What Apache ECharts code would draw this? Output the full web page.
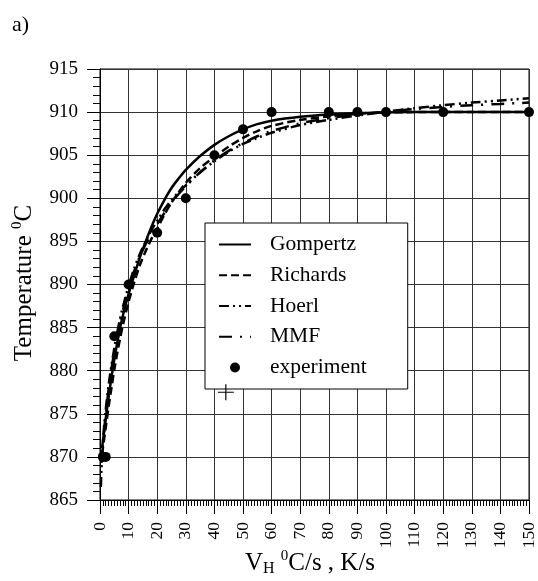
<!DOCTYPE html>
<html>
<head>
<meta charset="utf-8">
<script src="https://cdn.jsdelivr.net/npm/echarts@6/dist/echarts.min.js"></script>
<style>
html,body{margin:0;padding:0;background:#fff;}
#chart{width:538px;height:581px;}
</style>
</head>
<body>
<div id="chart"></div>
<script>
// ---- data ----
var xModel   = [0.3, 0.5, 0.7, 1, 1.5, 2, 3, 4, 5, 6, 7, 8, 10, 12, 14, 16, 18, 20, 22.5, 25, 27.5, 30, 35, 40, 45, 50, 55, 60, 70, 80, 90, 100, 110, 120, 130, 140, 150];
var gompertz = [null, null, 871.0, 871.8, 873.1, 874.4, 876.9, 879.2, 881.3, 883.2, 884.9, 886.4, 888.9, 891.1, 893.2, 895.0, 896.7, 898.2, 899.8, 901.2, 902.3, 903.3, 904.9, 906.2, 907.2, 908.0, 908.6, 909.0, 909.45, 909.72, 909.88, 909.96, 910.0, 910.0, 910.0, 910.0, 910.0];
var richards = [null, null, 870.3, 871.0, 872.2, 873.4, 875.8, 878.0, 880.1, 882.0, 883.7, 885.3, 888.0, 890.3, 892.3, 893.9, 895.3, 896.5, 898.1, 899.5, 900.7, 901.8, 903.5, 904.8, 906.0, 907.0, 907.8, 908.4, 909.1, 909.5, 909.8, 909.95, 910.0, 910.0, 910.0, 910.0, 910.0];
var hoerl    = [866.5, 868.5, 869.9, 871.6, 873.8, 875.5, 878.3, 880.6, 882.6, 884.4, 886.0, 887.4, 889.8, 891.9, 893.6, 895.0, 896.3, 897.4, 898.7, 899.8, 900.7, 901.5, 903.0, 904.3, 905.4, 906.3, 907.0, 907.6, 908.5, 909.1, 909.6, 910.05, 910.45, 910.8, 911.1, 911.35, 911.6];
var mmf      = [null, 869.3, 870.2, 871.4, 873.2, 874.9, 877.8, 880.2, 882.2, 884.0, 885.6, 887.0, 889.5, 891.6, 893.3, 894.7, 895.9, 897.0, 898.3, 899.5, 900.5, 901.4, 903.0, 904.4, 905.5, 906.4, 907.2, 907.8, 908.7, 909.3, 909.7, 910.05, 910.35, 910.6, 910.8, 910.95, 911.1];
var expX     = [1, 2, 5, 10, 20, 30, 40, 50, 60, 80, 90, 100, 120, 150];
var expY     = [870, 870, 884, 890, 896, 900, 905, 908, 910, 910, 910, 910, 910, 910];
var cursorMark = [44, 877.5];
var seriesNames = ['Gompertz', 'Richards', 'Hoerl', 'MMF', 'experiment'];

function pairs(xs, ys) {
  var out = [];
  for (var i = 0; i < xs.length; i++) { if (ys[i] !== null) out.push([xs[i], ys[i]]); }
  return out;
}

var FONT = 'Liberation Serif';
var chart = echarts.init(document.getElementById('chart'), null, {renderer: 'canvas'});

function lineSeries(name, ys, dash) {
  return {
    name: name, type: 'line', data: pairs(xModel, ys), symbol: 'none', smooth: 0.3,
    lineStyle: {color: '#000', width: 2.5, type: dash}, itemStyle: {color: '#000'}, z: 3
  };
}
var hiddenSym = {color: 'rgba(0,0,0,0)', borderWidth: 0, opacity: 0};

chart.setOption({
  animation: false,
  backgroundColor: '#fff',
  grid: {left: 100, right: 8, top: 69, bottom: 81, show: true, borderColor: '#000', borderWidth: 1, backgroundColor: 'transparent'},
  xAxis: {
    type: 'value', min: 0, max: 150, interval: 10,
    axisLine: {show: true, onZero: false, lineStyle: {color: '#000', width: 1}},
    axisTick: {show: true, inside: false, length: 14, lineStyle: {color: '#000', width: 1}},
    minorTick: {show: true, splitNumber: 10, length: 6, lineStyle: {color: '#000', width: 1}},
    axisLabel: {rotate: 90, margin: 22, fontFamily: FONT, fontSize: 17.5, color: '#000'},
    splitLine: {show: true, lineStyle: {color: '#333', width: 1}}
  },
  yAxis: {
    type: 'value', min: 865, max: 915, interval: 5,
    axisLine: {show: true, onZero: false, lineStyle: {color: '#000', width: 1}},
    axisTick: {show: true, inside: false, length: 13, lineStyle: {color: '#000', width: 1}},
    minorTick: {show: true, splitNumber: 5, length: 7, lineStyle: {color: '#000', width: 1}},
    axisLabel: {margin: 22, fontFamily: FONT, fontSize: 19, color: '#000'},
    splitLine: {show: true, lineStyle: {color: '#333', width: 1}}
  },
  legend: {
    orient: 'vertical', left: 205, top: 223,
    padding: [10.5, 41, 10.5, 13],
    itemWidth: 32, itemHeight: 10, itemGap: 8.75,
    backgroundColor: '#fff', borderColor: '#000', borderWidth: 1, borderRadius: 0,
    textStyle: {fontFamily: FONT, fontSize: 21.5, lineHeight: 22, color: '#000', padding: [0, 0, 0, 14]},
    data: [
      {name: seriesNames[0], itemStyle: hiddenSym},
      {name: seriesNames[1], itemStyle: hiddenSym},
      {name: seriesNames[2], itemStyle: hiddenSym},
      {name: seriesNames[3], itemStyle: hiddenSym},
      {name: seriesNames[4], icon: 'circle', itemStyle: {color: '#000', opacity: 1}}
    ],
    selectedMode: false, z: 10
  },
  graphic: [
    {type: 'text', left: 12, top: 14, style: {text: 'a)', fontFamily: FONT, fontSize: 22, fill: '#000'}},
    {type: 'text', x: 310, y: 563, style: {
      text: '{m|V}{s|H}{m| }{p|0}{m|C/s , K/s}', align: 'center', verticalAlign: 'middle',
      rich: {
        m: {fontFamily: FONT, fontSize: 25, lineHeight: 28, color: '#000'},
        s: {fontFamily: FONT, fontSize: 16, lineHeight: 16, verticalAlign: 'bottom', color: '#000'},
        p: {fontFamily: FONT, fontSize: 15, lineHeight: 15, verticalAlign: 'top', color: '#000'}
      }
    }},
    {type: 'text', x: 24, y: 283, rotation: Math.PI / 2, style: {
      text: '{m|Temperature }{p|0}{m|C}', align: 'center', verticalAlign: 'middle',
      rich: {
        m: {fontFamily: FONT, fontSize: 25, lineHeight: 28, color: '#000'},
        p: {fontFamily: FONT, fontSize: 15, lineHeight: 15, verticalAlign: 'top', color: '#000'}
      }
    }}
  ],
  series: [
    lineSeries(seriesNames[0], gompertz, 'solid'),
    lineSeries(seriesNames[1], richards, [8, 4]),
    lineSeries(seriesNames[2], hoerl, [10, 4, 2, 4, 2, 4]),
    lineSeries(seriesNames[3], mmf, [13, 8, 2, 8]),
    {name: seriesNames[4], type: 'scatter', data: pairs(expX, expY), symbol: 'circle', symbolSize: 10,
     itemStyle: {color: '#000', opacity: 1}, z: 4},
    {name: 'cursor', type: 'scatter', data: [cursorMark], symbolSize: 16,
     symbol: 'path://M7.4,0h1.2v7.4h7.4v1.2h-7.4v7.4h-1.2v-7.4h-7.4v-1.2h7.4z',
     itemStyle: {color: '#000', opacity: 1}, z: 11, silent: true}
  ]
});
</script>
</body>
</html>
